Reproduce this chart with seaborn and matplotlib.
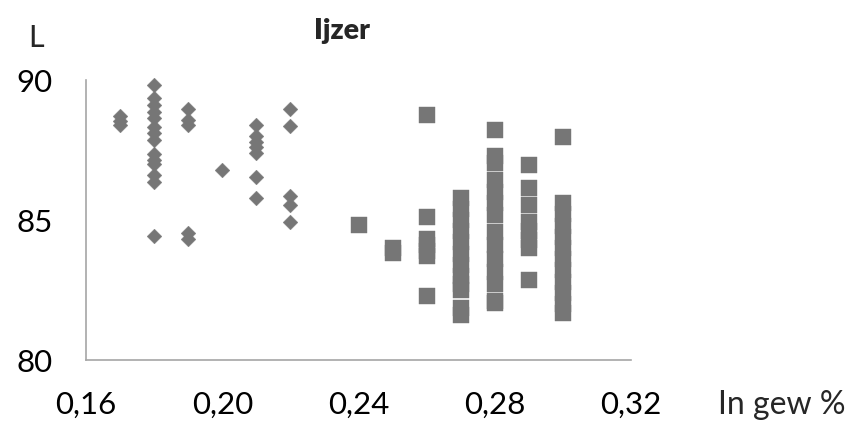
import matplotlib
matplotlib.use("Agg")
import matplotlib.pyplot as plt
import seaborn as sns
import pandas as pd

# --- data ---
diamond_x = [0.17, 0.17, 0.17,
             0.18, 0.18, 0.18, 0.18, 0.18, 0.18, 0.18, 0.18, 0.18, 0.18, 0.18, 0.18, 0.18, 0.18,
             0.19, 0.19, 0.19, 0.19, 0.19,
             0.20,
             0.21, 0.21, 0.21, 0.21, 0.21, 0.21, 0.21,
             0.22, 0.22, 0.22, 0.22, 0.22]
diamond_y = [88.4, 88.55, 88.7,
             89.81, 89.35, 89.11, 88.87, 88.63, 88.33, 88.09, 87.85, 87.37, 87.16, 86.99, 86.6, 86.36, 84.44,
             88.96, 88.57, 88.39, 84.52, 84.32,
             86.77,
             88.39, 88.0, 87.8, 87.6, 87.4, 86.55, 85.8,
             88.97, 88.34, 85.86, 85.54, 84.94]

square_x = [0.24,
            0.25, 0.25,
            0.26, 0.26, 0.26, 0.26, 0.26, 0.26, 0.26,
            0.27, 0.27, 0.27, 0.27, 0.27, 0.27, 0.27, 0.27, 0.27, 0.27, 0.27, 0.27,
            0.28, 0.28, 0.28, 0.28, 0.28, 0.28, 0.28, 0.28, 0.28, 0.28, 0.28, 0.28, 0.28, 0.28,
            0.29, 0.29, 0.29, 0.29, 0.29, 0.29, 0.29, 0.29,
            0.30, 0.30, 0.30, 0.30, 0.30, 0.30, 0.30, 0.30, 0.30, 0.30, 0.30, 0.30]
square_y = [84.82,
            84.0, 83.82,
            88.75, 85.12, 84.33, 84.1, 83.9, 83.73, 82.3,
            85.78, 85.4, 85.0, 84.6, 84.2, 83.8, 83.4, 83.0, 82.7, 82.5, 81.85, 81.6,
            88.2, 87.3, 87.04, 86.44, 86.0, 85.6, 85.18, 84.57, 84.1, 83.6, 83.15, 82.71, 82.12, 82.03,
            86.95, 86.16, 85.54, 84.92, 84.6, 84.3, 84.0, 82.87,
            87.96, 85.59, 85.2, 84.8, 84.4, 84.0, 83.6, 83.2, 82.8, 82.4, 82.0, 81.67]

x_ticks = [0.16, 0.20, 0.24, 0.28, 0.32]
x_tick_labels = ["0,16", "0,20", "0,24", "0,28", "0,32"]
y_ticks = [80, 85, 90]
y_tick_labels = ["80", "85", "90"]

title = "Ijzer"
y_label = "L"
x_label = "In gew %"

# --- figure ---
sns.set_theme(style="white")
plt.rcParams['font.family'] = ['Lato', 'DejaVu Sans']

fig = plt.figure(figsize=(8.64, 4.26), dpi=100)
W, H = 864, 426
ax = fig.add_axes([86 / W, (H - 360) / H, (631 - 86) / W, (360 - 80) / H])

df_d = pd.DataFrame({"x": diamond_x, "y": diamond_y})
df_s = pd.DataFrame({"x": square_x, "y": square_y})

mcol = "#767676"
sns.scatterplot(data=df_d, x="x", y="y", marker="D", s=56, color=mcol,
                edgecolor=mcol, linewidth=0.3, ax=ax, clip_on=False)
sns.scatterplot(data=df_s, x="x", y="y", marker="s", s=118, color=mcol,
                edgecolor=mcol, linewidth=0.3, ax=ax, clip_on=False)

ax.set_xlim(0.16, 0.32)
ax.set_ylim(80, 90)
ax.set_xticks(x_ticks)
ax.set_xticklabels(x_tick_labels)
ax.set_yticks(y_ticks)
ax.set_yticklabels(y_tick_labels)
ax.set_xlabel("")
ax.set_ylabel("")
ax.tick_params(axis="both", length=0, labelsize=22.5, colors="black")
ax.tick_params(axis="x", pad=22)
ax.tick_params(axis="y", pad=24)

for s in ["top", "right"]:
    ax.spines[s].set_visible(False)
for s in ["left", "bottom"]:
    ax.spines[s].set_color("#a6a6a6")
    ax.spines[s].set_linewidth(1.2)
ax.grid(False)

fig.text(342 / W, 1 - 31 / H, title, ha="center", va="center",
         fontsize=20.5, fontweight="heavy")
fig.text(36 / W, 1 - 38 / H, y_label, ha="center", va="center", fontsize=22)
fig.text(718 / W, 1 - 405 / H, x_label, ha="left", va="center", fontsize=23)

fig.savefig("out.png", dpi=100)
